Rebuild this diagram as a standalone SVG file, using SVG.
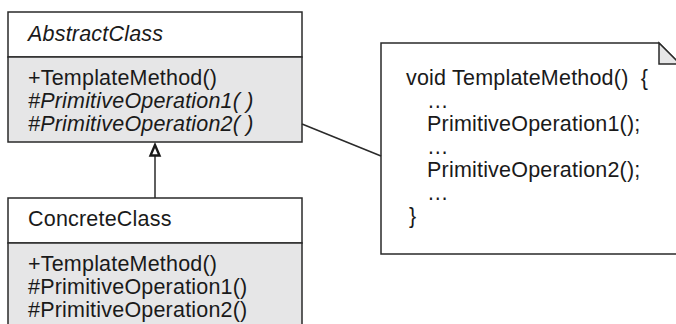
<svg xmlns="http://www.w3.org/2000/svg" width="676" height="324" viewBox="0 0 676 324">
<style>
.box{stroke:#2a2a2a;stroke-width:1.5}
.hdr{fill:#ffffff}
.ops{fill:#e6e6e7}
.t{font-family:"Liberation Sans",Arial,sans-serif;font-size:21.5px;fill:#1a1a1a;letter-spacing:0.2px}
.i{font-style:italic}
.ln{stroke:#2a2a2a;stroke-width:1.5;fill:none}
</style>
<rect width="676" height="324" fill="#ffffff"/>
<g id="AbstractClass">
<rect class="box hdr" x="8" y="12" width="294" height="45"/>
<rect class="box ops" x="8" y="57" width="294" height="85"/>
<text class="t i" x="28" y="41">AbstractClass</text>
<text class="t" x="28" y="85">+TemplateMethod()</text>
<text class="t i" x="28" y="108">#PrimitiveOperation1( )</text>
<text class="t i" x="28" y="131">#PrimitiveOperation2( )</text>
</g>
<g id="ConcreteClass">
<rect class="box hdr" x="8" y="198" width="294" height="45"/>
<rect class="box ops" x="8" y="243" width="294" height="90"/>
<text class="t" x="28" y="226">ConcreteClass</text>
<text class="t" x="28" y="271">+TemplateMethod()</text>
<text class="t" x="28" y="294">#PrimitiveOperation1()</text>
<text class="t" x="28" y="317">#PrimitiveOperation2()</text>
</g>
<g id="Note">
<path class="ln" d="M690 254 H381 V43 H659 L680 64"/>
<path class="ln" d="M659 43 V64 H680 Z" style="fill:#e6e6e7"/>
<text class="t" x="406" y="85" xml:space="preserve">void TemplateMethod()  {</text>
<text class="t" x="427" y="108">…</text>
<text class="t" x="427" y="131">PrimitiveOperation1();</text>
<text class="t" x="427" y="154">…</text>
<text class="t" x="427" y="177">PrimitiveOperation2();</text>
<text class="t" x="427" y="200">…</text>
<text class="t" x="409" y="223">}</text>
</g>
<g id="connectors">
<line class="ln" x1="155" y1="198" x2="155" y2="155"/>
<path d="M155 145 L150.5 155.5 H159.5 Z" fill="#ffffff" stroke="#1a1a1a" stroke-width="2.4" stroke-linejoin="miter"/>
<line class="ln" x1="302" y1="124" x2="381" y2="156"/>
</g>
</svg>
